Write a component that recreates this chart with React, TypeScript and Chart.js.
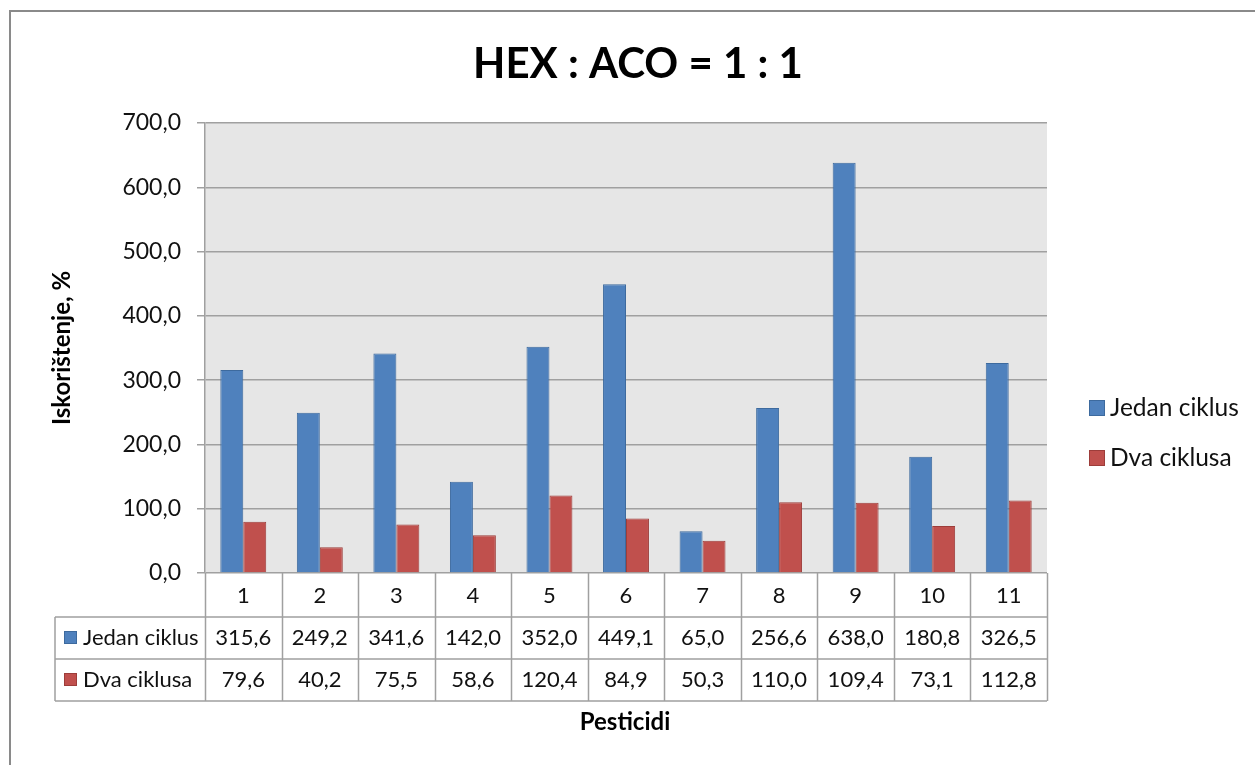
import React, { useEffect, useRef } from "react";
import { Chart, registerables } from "chart.js";

Chart.register(...registerables);

const categories = ["1", "2", "3", "4", "5", "6", "7", "8", "9", "10", "11"];
const seriesNames = ["Jedan ciklus", "Dva ciklusa"];
const jedanCiklus = [315.6, 249.2, 341.6, 142.0, 352.0, 449.1, 65.0, 256.6, 638.0, 180.8, 326.5];
const dvaCiklusa = [79.6, 40.2, 75.5, 58.6, 120.4, 84.9, 50.3, 110.0, 109.4, 73.1, 112.8];
const titleText = "HEX : ACO = 1 : 1";
const yTitle = "Iskorištenje, %";
const xTitle = "Pesticidi";

const FONT = "Lato, 'Open Sans', sans-serif";
const BLUE = "#4f81bd";
const BLUE_B = "#3d6a9e";
const RED = "#c0504d";
const RED_B = "#9d3d3a";
const LINE = "#a0a0a0";

const fmt = (v: number) => v.toFixed(1).replace(".", ",");

const W = 1255;
const H = 765;

export default function App() {
  const ref = useRef<HTMLCanvasElement | null>(null);
  useEffect(() => {
    if (!ref.current) return;
    const decor = {
      id: "decor",
      beforeDraw(chart: any) {
        const { ctx, chartArea } = chart;
        ctx.save();
        ctx.fillStyle = "#ffffff";
        ctx.fillRect(0, 0, W, H);
        // outer frame
        ctx.strokeStyle = "#8a8a8a";
        ctx.lineWidth = 2;
        ctx.strokeRect(10, 11, W + 20, H + 20);
        // plot background
        ctx.fillStyle = "#e6e6e6";
        ctx.fillRect(chartArea.left, chartArea.top, chartArea.right - chartArea.left, chartArea.bottom - chartArea.top);
        ctx.restore();
      },
      afterDraw(chart: any) {
        const { ctx, chartArea, scales } = chart;
        const x = scales.x;
        const n = categories.length;
        const step = (chartArea.right - chartArea.left) / n;
        const top = chartArea.bottom;
        const hdrH = 44;
        const rowH = 42;
        const tableLeft = 55;
        const y1 = top + hdrH;
        const y2 = y1 + rowH;
        const y3 = y2 + rowH;
        ctx.save();
        ctx.strokeStyle = LINE;
        ctx.lineWidth = 1.5;
        ctx.beginPath();
        for (let i = 0; i <= n; i++) {
          const px = Math.round(chartArea.left + i * step) + 0.5;
          ctx.moveTo(px, top);
          ctx.lineTo(px, y3);
        }
        ctx.moveTo(tableLeft, y1); ctx.lineTo(chartArea.right, y1);
        ctx.moveTo(tableLeft, y2); ctx.lineTo(chartArea.right, y2);
        ctx.moveTo(tableLeft, y3); ctx.lineTo(chartArea.right, y3);
        ctx.moveTo(tableLeft, y1); ctx.lineTo(tableLeft, y3);
        ctx.stroke();

        ctx.fillStyle = "#111";
        ctx.textAlign = "center";
        ctx.textBaseline = "middle";
        ctx.font = `22px ${FONT}`;
        for (let i = 0; i < n; i++) {
          const cx = x.getPixelForValue(i);
          ctx.fillText(categories[i], cx, top + hdrH / 2 + 1);
          ctx.fillText(fmt(jedanCiklus[i]), cx, y1 + rowH / 2);
          ctx.fillText(fmt(dvaCiklusa[i]), cx, y2 + rowH / 2);
        }
        // row keys
        const keys = [
          [BLUE, BLUE_B, seriesNames[0], y1 + rowH / 2],
          [RED, RED_B, seriesNames[1], y2 + rowH / 2],
        ] as const;
        ctx.textAlign = "left";
        for (const [f, b, t, cy] of keys) {
          ctx.fillStyle = f;
          ctx.fillRect(64, cy - 7, 13, 13);
          ctx.strokeStyle = b;
          ctx.lineWidth = 1;
          ctx.strokeRect(64.5, cy - 6.5, 12, 12);
          ctx.fillStyle = "#111";
          ctx.fillText(t, 83, cy);
        }
        // right legend
        const lkeys = [
          [BLUE, BLUE_B, seriesNames[0], 408],
          [RED, RED_B, seriesNames[1], 458],
        ] as const;
        ctx.font = `24.5px ${FONT}`;
        for (const [f, b, t, cy] of lkeys) {
          ctx.fillStyle = f;
          ctx.fillRect(1089, cy - 8, 16, 16);
          ctx.strokeStyle = b;
          ctx.lineWidth = 1;
          ctx.strokeRect(1089.5, cy - 7.5, 15, 15);
          ctx.fillStyle = "#111";
          ctx.fillText(t, 1110, cy);
        }
        // titles
        ctx.fillStyle = "#000";
        ctx.textAlign = "center";
        ctx.font = `bold 42px ${FONT}`;
        ctx.fillText(titleText, 638, 64);
        ctx.font = `bold 24px ${FONT}`;
        ctx.fillText(xTitle, 625, 722);
        ctx.save();
        ctx.translate(62, 348);
        ctx.rotate(-Math.PI / 2);
        ctx.fillText(yTitle, 0, 0);
        ctx.restore();
        ctx.restore();
      },
    };

    const chart = new Chart(ref.current, {
      type: "bar",
      data: {
        labels: categories,
        datasets: [
          {
            label: seriesNames[0],
            data: jedanCiklus,
            backgroundColor: BLUE,
            borderColor: BLUE_B,
            borderWidth: 1,
            categoryPercentage: 0.6,
            barPercentage: 1,
          },
          {
            label: seriesNames[1],
            data: dvaCiklusa,
            backgroundColor: RED,
            borderColor: RED_B,
            borderWidth: 1,
            categoryPercentage: 0.6,
            barPercentage: 1,
          },
        ],
      },
      options: {
        responsive: false,
        animation: false,
        layout: { padding: { top: 123, right: 208, left: 0, bottom: 0 } },
        plugins: { legend: { display: false }, title: { display: false }, tooltip: { enabled: false } },
        scales: {
          x: {
            ticks: { display: false },
            grid: { display: false },
            border: { display: false },
            afterFit: (s: any) => { s.height = 192; },
          },
          y: {
            min: 0,
            max: 700,
            ticks: {
              stepSize: 100,
              padding: 16,
              color: "#111",
              font: { family: FONT, size: 23 },
              callback: (v: any) => fmt(Number(v)),
            },
            grid: { color: LINE, lineWidth: 1.5, tickLength: 8, drawTicks: true },
            border: { color: LINE, width: 1.5 },
            afterFit: (s: any) => { s.width = 205; },
          },
        },
      },
      plugins: [decor],
    });
    return () => chart.destroy();
  }, []);
  return (
    <div style={{ position: "fixed", left: 0, top: 0, width: W, height: H }}>
      <canvas ref={ref} width={W} height={H} style={{ display: "block" }} />
    </div>
  );
}
